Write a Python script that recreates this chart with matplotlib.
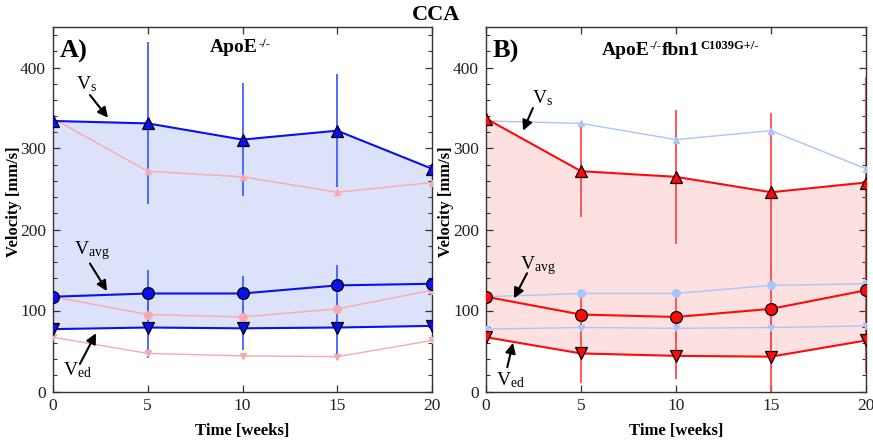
import numpy as np
import matplotlib
matplotlib.use('Agg')
import matplotlib.pyplot as plt
from matplotlib.ticker import MultipleLocator

plt.rcParams['font.family'] = ['Liberation Serif', 'DejaVu Serif']
plt.rcParams['mathtext.fontset'] = 'custom'
plt.rcParams['mathtext.rm'] = 'Liberation Serif'
plt.rcParams['mathtext.bf'] = 'Liberation Serif:bold'
plt.rcParams['mathtext.it'] = 'Liberation Serif:italic'

# time points [weeks]
weeks = [0, 5, 10, 15, 20]

# ApoE-/- (blue)
apoe_vs = [334, 331, 311, 322, 275]
apoe_vs_err = [0, 100, 70, 70, 0]
apoe_vavg = [117, 121, 121, 131, 133]
apoe_vavg_err = [0, 29, 22, 25, 0]
apoe_ved = [77, 79, 78, 79, 81]
apoe_ved_err = [0, 38, 27, 40, 0]

# ApoE-/-fbn1 C1039G+/- (red)
fbn_vs = [337, 272, 265, 246, 258]
fbn_vs_err = [95, 57, 83, 98, 130]
fbn_vavg = [117, 95, 92, 102, 125]
fbn_vavg_err = [30, 23, 29, 50, 40]
fbn_ved = [67, 47, 44, 43, 63]
fbn_ved_err = [60, 37, 28, 43, 40]

BLUE = '#0a10f0'
BLUE_ERR = '#4060ff'
BLUE_PALE = '#a9c6fb'
BLUE_FILL = '#dbe2fa'
RED = '#ff0a0a'
RED_ERR = '#ff4a4a'
RED_PALE = '#f9aaaa'
RED_FILL = '#fde0e0'

fig = plt.figure(figsize=(8.73, 4.41), dpi=100)
ax1 = fig.add_axes([53/873, 1-391.5/441, 379/873, 364.5/441])
ax2 = fig.add_axes([486/873, 1-391.5/441, 380/873, 364.5/441])


def main_series(ax, vs, vse, va, vae, vd, vde, c, cerr, cfill):
    ax.fill_between(weeks, vd, vs, color=cfill, lw=0, zorder=1)
    for y, e in ((vs, vse), (va, vae), (vd, vde)):
        ax.errorbar(weeks, y, yerr=e, fmt='none', ecolor=cerr, elinewidth=1.3, capsize=0, zorder=2)
    ax.plot(weeks, vs, '-^', color=c, mfc=c, mec='black', mew=0.9, ms=8, lw=1.5, zorder=4)
    ax.plot(weeks, va, '-o', color=c, mfc=c, mec='black', mew=0.9, ms=8.5, lw=1.5, zorder=4)
    ax.plot(weeks, vd, '-v', color=c, mfc=c, mec='black', mew=0.9, ms=8, lw=1.5, zorder=4)


def pale_series(ax, vs, va, vd, c):
    ax.plot(weeks, vs, '-^', color=c, mfc=c, mec=c, ms=5, lw=1.0, zorder=3)
    ax.plot(weeks, va, '-o', color=c, mfc=c, mec=c, ms=5.5, lw=1.0, zorder=3)
    ax.plot(weeks, vd, '-v', color=c, mfc=c, mec=c, ms=5, lw=1.0, zorder=3)


def sup_title(ax, x, y, parts):
    # parts: list of (text, is_superscript)
    first = ax.text(x, y, parts[0][0], fontsize=14, fontweight='bold', ha='left', va='baseline')
    base = first
    prev = first
    for txt, sup in parts[1:]:
        if sup:
            prev = ax.annotate(txt, xy=(1, 1), xycoords=(prev, base), fontsize=9, fontweight='bold',
                               ha='left', va='top', xytext=(0.2, 1), textcoords='offset points')
        else:
            prev = ax.annotate(txt, xy=(1, 0), xycoords=(prev, base), fontsize=14, fontweight='bold',
                               ha='left', va='bottom', xytext=(0.2, 0), textcoords='offset points')


main_series(ax1, apoe_vs, apoe_vs_err, apoe_vavg, apoe_vavg_err, apoe_ved, apoe_ved_err,
            BLUE, BLUE_ERR, BLUE_FILL)
pale_series(ax1, fbn_vs, fbn_vavg, fbn_ved, RED_PALE)

main_series(ax2, fbn_vs, fbn_vs_err, fbn_vavg, fbn_vavg_err, fbn_ved, fbn_ved_err,
            RED, RED_ERR, RED_FILL)
pale_series(ax2, apoe_vs, apoe_vavg, apoe_ved, BLUE_PALE)

for ax in (ax1, ax2):
    ax.set_xlim(0, 20)
    ax.set_ylim(0, 450)
    ax.xaxis.set_major_locator(MultipleLocator(5))
    ax.yaxis.set_major_locator(MultipleLocator(100))
    ax.yaxis.set_minor_locator(MultipleLocator(20))
    ax.tick_params(which='both', direction='in', top=True, right=True, labelsize=12.5, colors='#333333',
                   labelcolor='#222222')
    ax.tick_params(which='major', length=5, width=0.9, pad=5)
    ax.tick_params(which='minor', length=3, width=0.8)
    for s in ax.spines.values():
        s.set_color('#333333')
        s.set_linewidth(1.0)
    ax.set_xlabel('Time [weeks]', fontsize=12, fontweight='bold', labelpad=6)
    ax.set_ylabel('Velocity [mm/s]', fontsize=12, fontweight='bold')
    ax.yaxis.set_label_coords(-0.083, 0.52)

arr = dict(arrowstyle='-|>,head_length=0.6,head_width=0.3', color='black', lw=1.5, shrinkA=0, shrinkB=0)

ax1.text(0.35, 420, 'A)', fontsize=19, fontweight='bold', va='center', ha='left')
sup_title(ax1, 8.3, 419, [('ApoE', False), ('-/-', True)])
ax1.text(1.75, 380, r'V$_\mathrm{s}$', fontsize=14, ha='center', va='center')
ax1.annotate('', xy=(2.9, 338), xytext=(1.95, 366), arrowprops=arr)
ax1.text(2.05, 174, r'V$_\mathrm{avg}$', fontsize=14, ha='center', va='center')
ax1.annotate('', xy=(2.85, 124), xytext=(1.95, 158), arrowprops=arr)
ax1.text(1.3, 26, r'V$_\mathrm{ed}$', fontsize=14, ha='center', va='center')
ax1.annotate('', xy=(2.27, 72), xytext=(1.42, 34), arrowprops=arr)

ax2.text(0.35, 420, 'B)', fontsize=19, fontweight='bold', va='center', ha='left')
sup_title(ax2, 6.1, 416, [('ApoE', False), ('-/-', True), ('fbn1', False), ('C1039G+/-', True)])
ax2.text(3.0, 362, r'V$_\mathrm{s}$', fontsize=14, ha='center', va='center')
ax2.annotate('', xy=(1.95, 322), xytext=(2.47, 350), arrowprops=arr)
ax2.text(2.75, 156, r'V$_\mathrm{avg}$', fontsize=14, ha='center', va='center')
ax2.annotate('', xy=(1.47, 115), xytext=(2.16, 146), arrowprops=arr)
ax2.text(1.3, 14, r'V$_\mathrm{ed}$', fontsize=14, ha='center', va='center')
ax2.annotate('', xy=(1.42, 60), xytext=(1.12, 30), arrowprops=arr)

fig.text(0.5, 1-15/441, 'CCA', fontsize=16, fontweight='bold', ha='center', va='center')

fig.savefig('out.png', dpi=100)
